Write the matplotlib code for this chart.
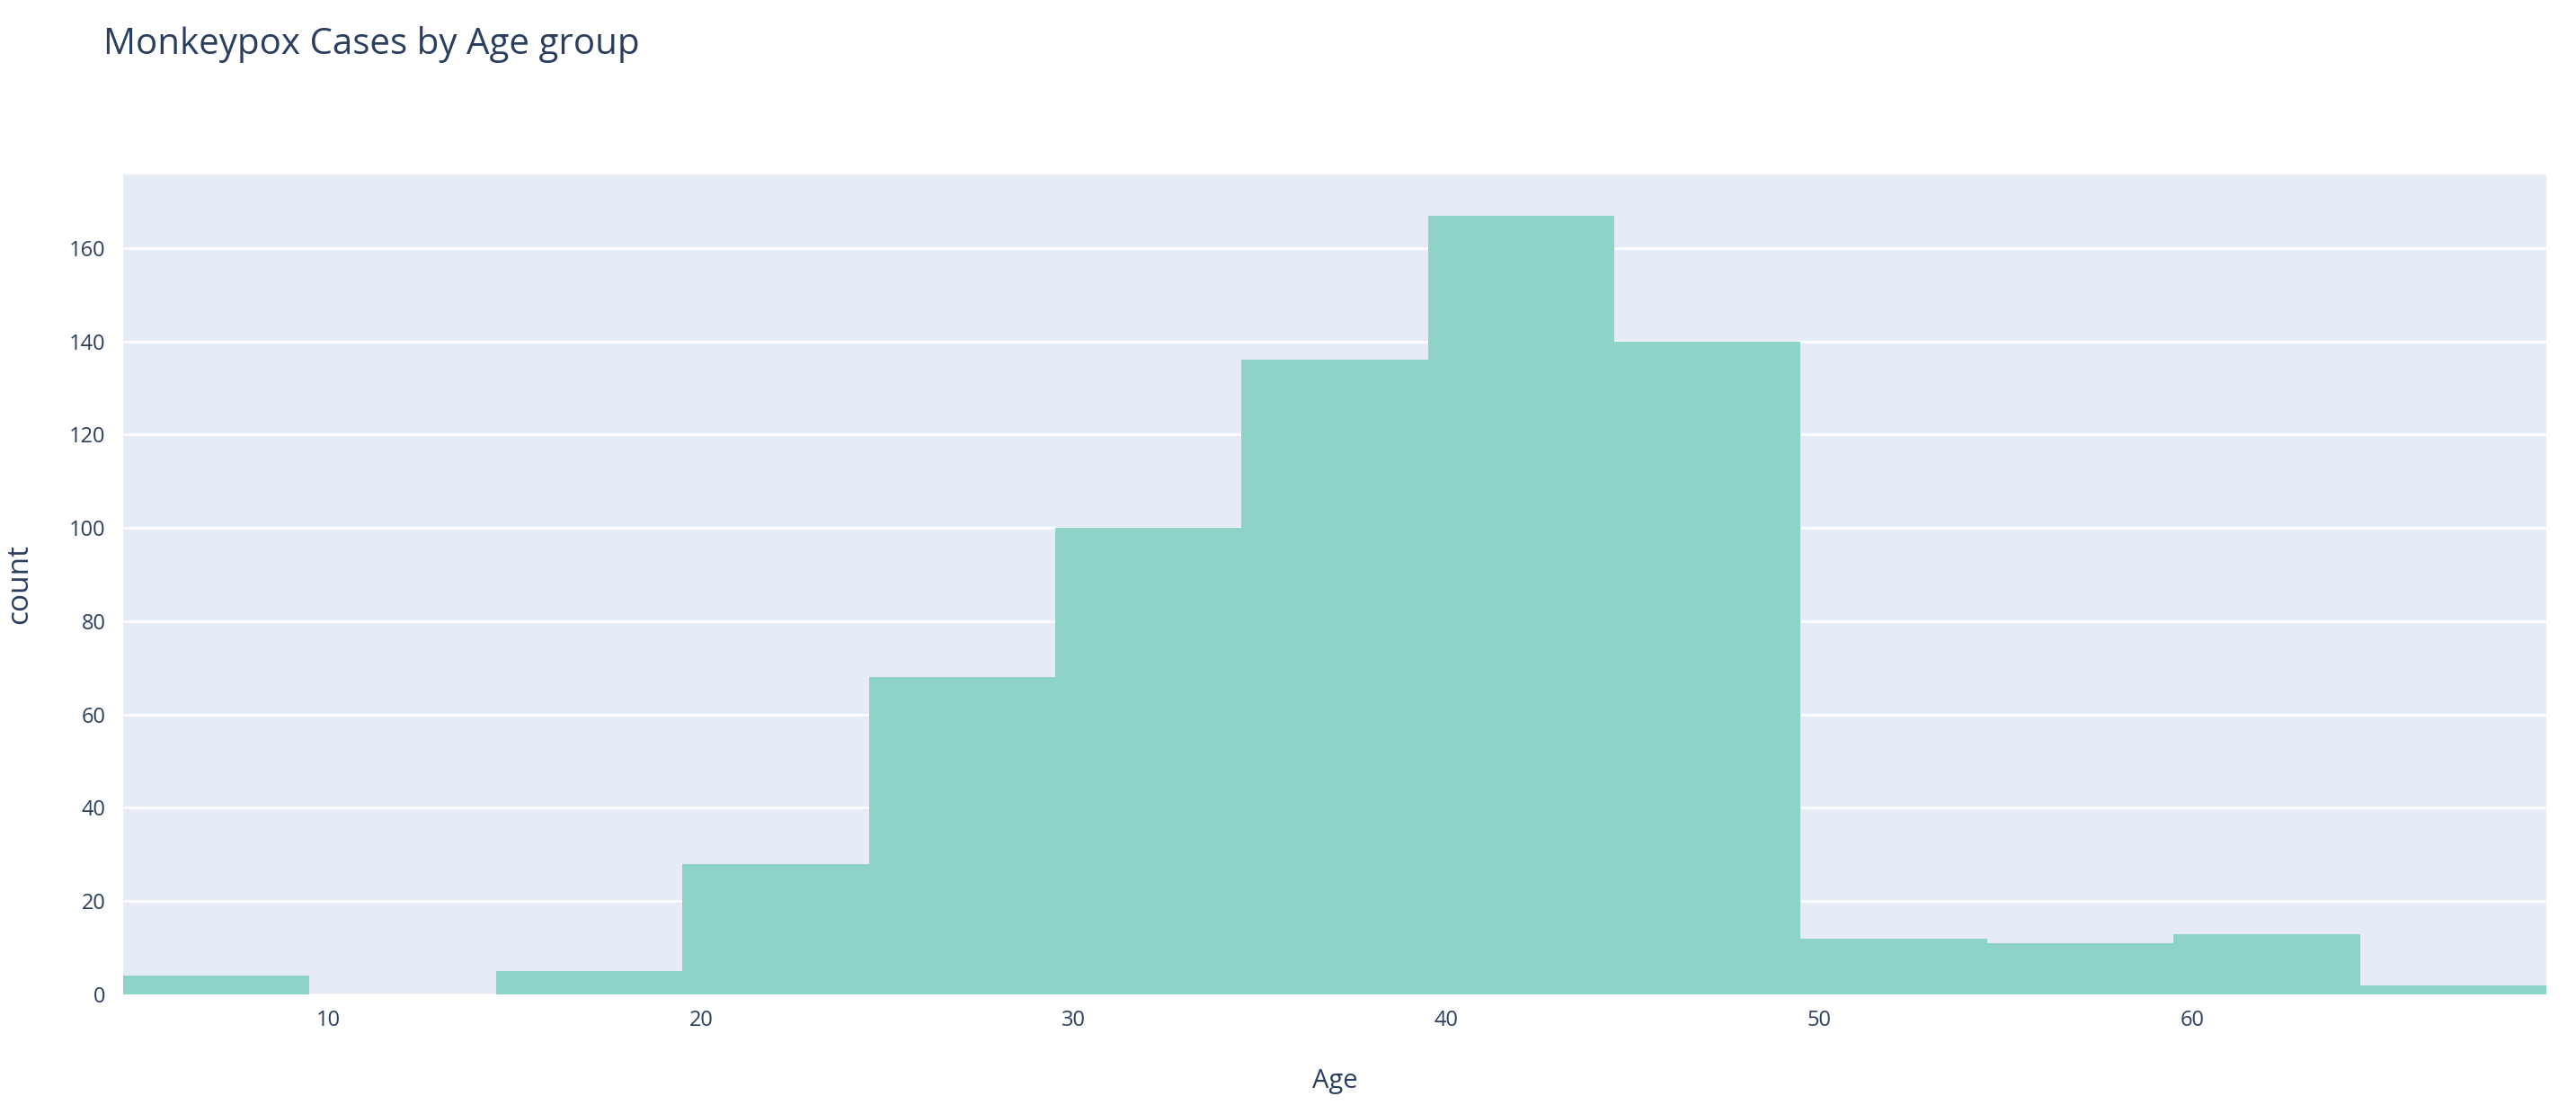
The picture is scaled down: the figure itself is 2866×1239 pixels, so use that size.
"""Monkeypox cases by age group: histogram in plotly-like styling."""
import matplotlib
matplotlib.use("Agg")
import matplotlib.pyplot as plt
import numpy as np

# Histogram bins (age) and counts
BIN_EDGES = [4.5, 9.5, 14.5, 19.5, 24.5, 29.5, 34.5, 39.5, 44.5, 49.5, 54.5, 59.5, 64.5, 69.5]
COUNTS = [4, 0, 5, 28, 68, 100, 136, 167, 140, 12, 11, 13, 2]
X_TICKS = [10, 20, 30, 40, 50, 60]
Y_TICKS = [0, 20, 40, 60, 80, 100, 120, 140, 160]

TEXT = "#2a3f5f"
BG = "#E5ECF6"
BAR = "#8DD3C7"

plt.rcParams["font.family"] = ["Open Sans", "DejaVu Sans"]

W, H = 2866, 1239
fig = plt.figure(figsize=(W / 100, H / 100), dpi=100)
left, right, top, bottom = 137, 2833, 194, 1106
ax = fig.add_axes([left / W, 1 - bottom / H, (right - left) / W, (bottom - top) / H])
ax.set_facecolor(BG)

edges = np.array(BIN_EDGES)
ax.bar(edges[:-1], COUNTS, width=np.diff(edges), align="edge", color=BAR,
       linewidth=0, zorder=2)

ax.set_xlim(edges[0], edges[-1])
ax.set_ylim(0, 175.8)
ax.set_xticks(X_TICKS)
ax.set_yticks(Y_TICKS)
ax.grid(axis="y", color="white", lw=2, zorder=1)
ax.set_axisbelow(True)
for s in ax.spines.values():
    s.set_visible(False)
ax.tick_params(length=0, labelcolor=TEXT, labelsize=17)
ax.tick_params(axis="y", pad=14)
ax.tick_params(axis="x", pad=12)

ax.set_xlabel("Age", color=TEXT, fontsize=21, labelpad=30)
ax.set_ylabel("count", color=TEXT, fontsize=24, labelpad=28)

fig.text(115 / W, 1 - 49 / H, "Monkeypox Cases by Age group", color=TEXT,
         fontsize=29, va="center", ha="left")

fig.savefig("out.png", dpi=100, facecolor="white")
